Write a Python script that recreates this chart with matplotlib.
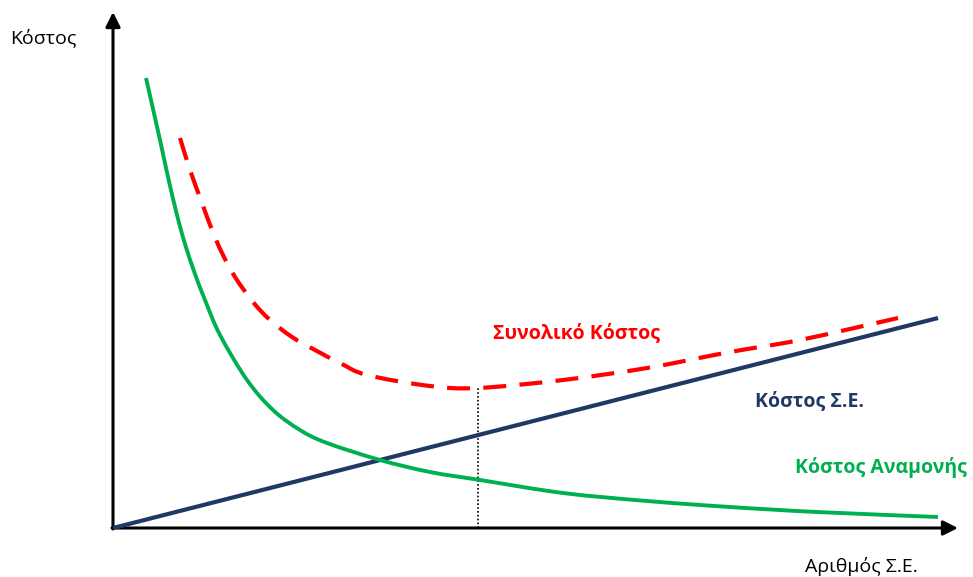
import matplotlib
matplotlib.use("Agg")
import matplotlib.pyplot as plt
import numpy as np
from matplotlib.path import Path
from matplotlib.patches import PathPatch

plt.rcParams['font.family'] = ['Open Sans', 'DejaVu Sans']

# Number of service stations (x) and costs (y), in chart units
waiting_x = [33, 47, 55, 64, 72, 82, 92, 107, 134, 160, 187, 214, 267, 317, 367, 450, 534, 617, 704, 825]
waiting_y = [450, 388, 351, 313, 284, 254, 228, 193, 148, 118, 98, 85, 68, 56, 48, 35, 27, 21, 16, 11]

service_x = [0, 825]
service_y = [0, 210]

total_x = [67, 77, 89, 99, 109, 122, 140, 157, 179, 202, 227, 254, 317, 365, 450, 534, 617, 687, 785]
total_y = [390, 358, 325, 298, 275, 251, 226, 208, 191, 178, 165, 153, 142, 140, 148, 160, 176, 188, 210]

optimum_x = 365

x_label = "Αριθμός Σ.Ε."
y_label = "Κόστος"
total_label = "Συνολικό Κόστος"
service_label = "Κόστος Σ.Ε."
waiting_label = "Κόστος Αναμονής"

GREEN = "#00B050"
RED = "#FF0000"
NAVY = "#1F3864"


def smooth_path(xs, ys):
    """Catmull-Rom curve through the given points, as cubic Bezier segments."""
    pts = np.column_stack([xs, ys]).astype(float)
    verts = [pts[0]]
    codes = [Path.MOVETO]
    n = len(pts)
    for i in range(n - 1):
        p0 = pts[i - 1] if i > 0 else pts[i]
        p1 = pts[i]
        p2 = pts[i + 1]
        p3 = pts[i + 2] if i + 2 < n else pts[i + 1]
        c1 = p1 + (p2 - p0) / 6.0
        c2 = p2 - (p3 - p1) / 6.0
        verts += [c1, c2, p2]
        codes += [Path.CURVE4] * 3
    return Path(verts, codes)


fig = plt.figure(figsize=(9.73, 5.77), dpi=100)
ax = fig.add_axes([0, 0, 1, 1])
ax.set_xlim(-113, 860)
ax.set_ylim(-49, 528)
ax.axis('off')

# Axes with arrow heads
arrow_kw = dict(arrowstyle='-|>', lw=2.2, color='black', mutation_scale=22,
                shrinkA=0, shrinkB=0)
ax.annotate('', xy=(845, 0), xytext=(-1, 0), arrowprops=arrow_kw)
ax.annotate('', xy=(0, 516), xytext=(0, -1), arrowprops=arrow_kw)

# Optimum marker
min_idx = int(np.argmin(total_y))
ax.plot([optimum_x, optimum_x], [0, total_y[min_idx]], color='black',
        lw=1.2, linestyle=(0, (1, 1.3)), zorder=2)

# Cost curves
ax.plot(service_x, service_y, color=NAVY, lw=3, solid_capstyle='butt', zorder=3)
ax.add_patch(PathPatch(smooth_path(waiting_x, waiting_y), fill=False,
                       edgecolor=GREEN, lw=2.8, capstyle='butt', zorder=3))
ax.add_patch(PathPatch(smooth_path(total_x, total_y), fill=False,
                       edgecolor=RED, lw=3, linestyle=(0, (5.5, 3.2)),
                       capstyle='butt', zorder=3))

# Labels
fs = 14
ax.text(-103, 490, y_label, fontsize=fs, color='black', va='center', ha='left')
ax.text(692, -38, x_label, fontsize=fs, color='black', va='center', ha='left')
ax.text(380, 195, total_label, fontsize=fs, color=RED, fontweight='bold',
        va='center', ha='left')
ax.text(642, 127, service_label, fontsize=fs, color=NAVY, fontweight='bold',
        va='center', ha='left')
ax.text(682, 60, waiting_label, fontsize=fs, color=GREEN, fontweight='bold',
        va='center', ha='left')

fig.savefig("out.png", dpi=100)
